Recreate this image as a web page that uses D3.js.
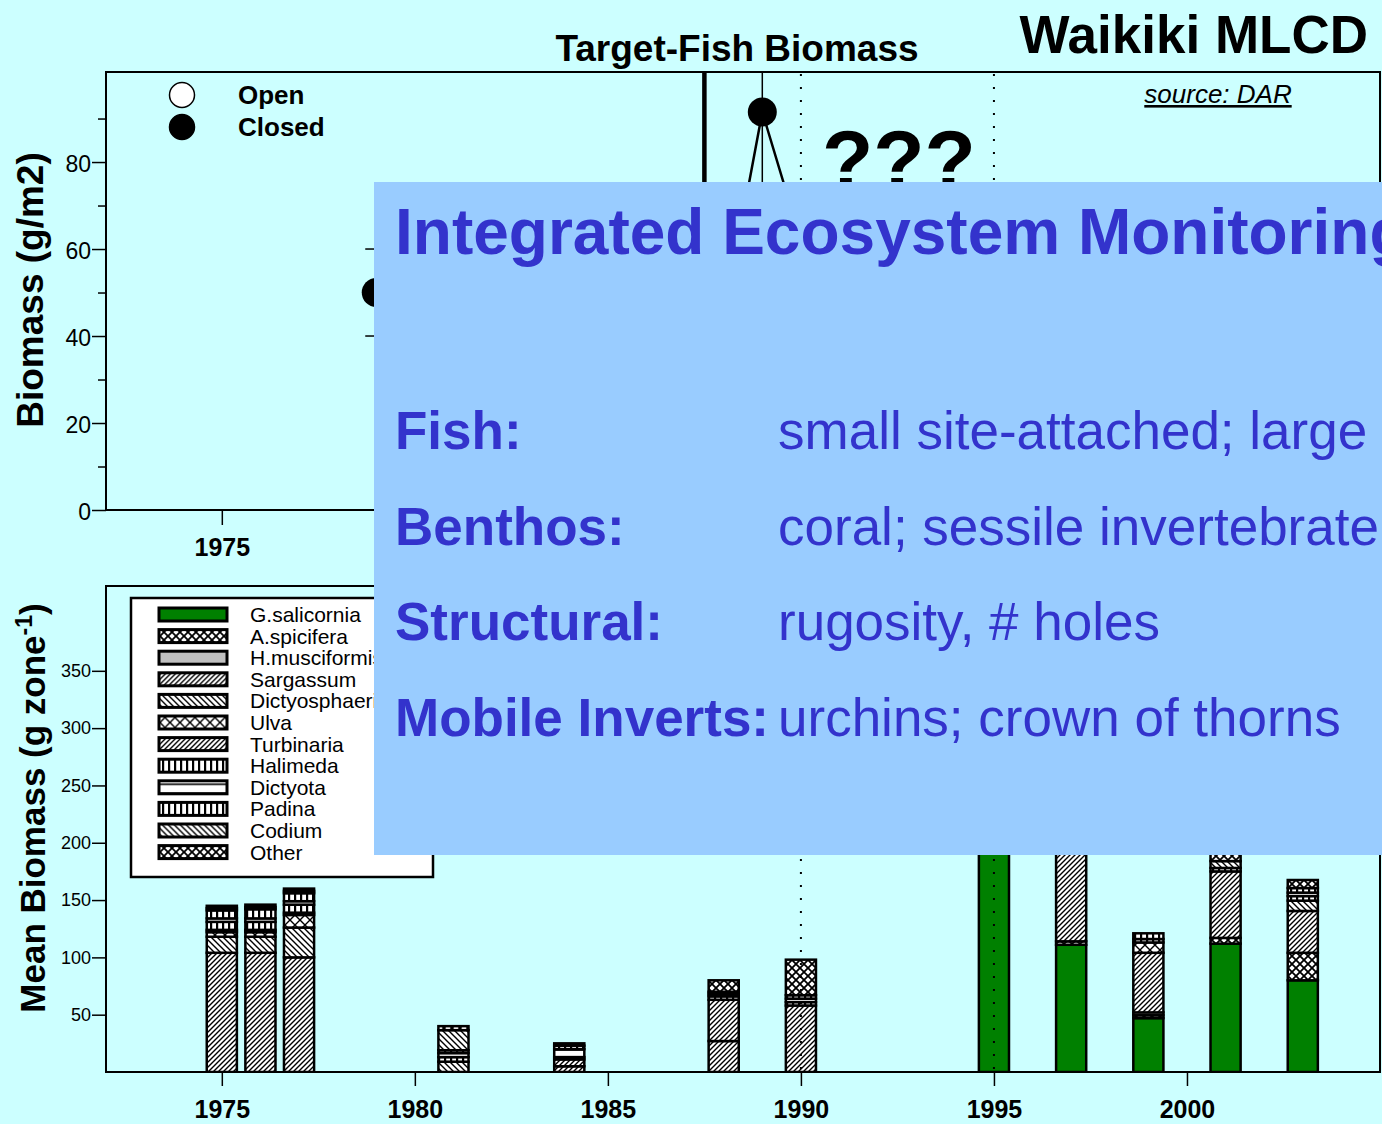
<!DOCTYPE html>
<html lang="en">
  <head>
    <meta charset="utf-8">
    <title>Waikiki MLCD - Target-Fish Biomass</title>
    <style>
      body { margin: 0; background: #ccffff; }
      svg { display: block; }
      text { font-family: "Liberation Sans", Arial, Helvetica, sans-serif; }
    </style>
  </head>
  <body>
    <div id="container"></div>
    <script src="https://cdnjs.cloudflare.com/ajax/libs/d3/7.8.5/d3.min.js"></script>
    <script>
      // ---- top panel: target-fish biomass (closed), mostly under the box
      var fishYears  = [1979, 1988, 1989, 1990];
      var fishClosed = [50, 44, 91.5, 62];
      var fishSE     = [10, 12, 30, 10];
      var markYears  = [1990, 1995];
      var closureYear = 1987.5;
      var fishTicks  = [0, 20, 40, 60, 80];
      var fishMinor  = [10, 30, 50, 70, 90];

      // ---- bottom panel: mean algal biomass by species
      var algaeYears = [1975, 1976, 1977, 1981, 1984, 1988, 1990, 1995, 1997, 1999, 2001, 2003];
      var species = ["G.salicornia", "A.spicifera", "H.musciformis", "Sargassum", "Dictyosphaeria", "Ulva",
                     "Turbinaria", "Halimeda", "Dictyota", "Padina", "Codium", "Other"];
      var gSalicornia    = [0, 0, 0, 0, 0, 0, 0, 330, 111, 47, 112, 80];
      var aSpicifera     = [0, 0, 0, 0, 0, 0, 0, 0, 3, 2.5, 5, 24];
      var hMusciformis   = [0, 0, 0, 0, 0, 0, 0, 0, 0, 2.5, 0, 0];
      var sargassum      = [104, 104, 100, 0, 5, 27, 58, 0, 120, 52, 58, 36.5];
      var dictyosphaeria = [14, 14, 26, 9, 0, 0, 0, 0, 0, 0, 0, 9];
      var ulva           = [4, 4, 11, 0, 0, 0, 0, 0, 0, 9, 0, 0];
      var turbinaria     = [2, 2, 2, 0, 6, 36, 0, 0, 0, 0, 0, 0];
      var halimeda       = [7, 7, 7, 4, 2, 3, 3, 0, 0, 3, 3, 4];
      var dictyota       = [3, 3, 3, 3.5, 7, 2, 3, 0, 0, 0, 0, 3];
      var padina         = [7, 8, 7, 2.5, 3, 2, 3, 0, 0, 5, 0, 4];
      var codium         = [2, 2, 2, 17.5, 0, 0, 0, 0, 0, 0, 6, 0];
      var other          = [2, 2, 2, 3.5, 2, 10, 31, 0, 0, 0, 10, 7];
      var xTicks     = [1975, 1980, 1985, 1990, 1995, 2000];
      var algaeTicks = [50, 100, 150, 200, 250, 300, 350];

      var boxRows = [
        ["Fish:", "small site-attached; large"],
        ["Benthos:", "coral; sessile invertebrate"],
        ["Structural:", "rugosity, # holes"],
        ["Mobile Inverts:", "urchins; crown of thorns"]
      ];

      var speciesValues = [gSalicornia, aSpicifera, hMusciformis, sargassum, dictyosphaeria, ulva,
                           turbinaria, halimeda, dictyota, padina, codium, other];
      var speciesFill = ["#008000", "url(#xdense)", "#c0c0c0", "url(#fwd)", "url(#back)", "url(#cross)",
                         "url(#fwd)", "url(#vert)", "url(#horiz)", "url(#vert)", "url(#back)", "url(#xdense)"];

      var width = 1382, height = 1124;
      var left = 106, right = 1380;
      var boxX = 374, boxTop = 182, boxBottom = 855;

      var svg = d3.select("#container").append("svg")
          .attr("width", width)
          .attr("height", height);

      svg.append("rect").attr("width", width).attr("height", height).attr("fill", "#ccffff");

      var defs = svg.append("defs");
      function hatch(id, size, d, sw) {
        var p = defs.append("pattern").attr("id", id)
            .attr("patternUnits", "userSpaceOnUse")
            .attr("width", size).attr("height", size);
        p.append("rect").attr("width", size).attr("height", size).attr("fill", "#fff");
        p.append("path").attr("d", d).attr("stroke", "#000").attr("stroke-width", sw).attr("fill", "none");
      }
      hatch("fwd", 5, "M-1,1L1,-1M0,5L5,0M4,6L6,4", 1.4);
      hatch("back", 6, "M-1,5L1,7M0,0L6,6M5,-1L7,1", 1.4);
      hatch("cross", 10, "M0,0L10,10M10,0L0,10", 1.4);
      hatch("xdense", 8, "M0,0L8,8M8,0L0,8", 1.8);
      hatch("vert", 6, "M1,0V6", 2.4);
      hatch("horiz", 9, "M0,6H9", 1.6);

      defs.append("clipPath").attr("id", "clipTop").append("rect")
          .attr("x", left).attr("y", 72).attr("width", right - left).attr("height", 510 - 72);
      defs.append("clipPath").attr("id", "clipBot").append("rect")
          .attr("x", left).attr("y", 586).attr("width", right - left).attr("height", 1072 - 586);

      var x = d3.scaleLinear().domain([1972, 2005]).range([left, right]);
      var yTop = d3.scaleLinear().domain([0, 100.7]).range([510, 72]);
      var yBot = d3.scaleLinear().domain([0, 424]).range([1072, 586]);

      // ================= bottom panel =================
      var rows = algaeYears.map(function(yr, i) {
        var r = {year: yr};
        species.forEach(function(s, j) { r[s] = speciesValues[j][i]; });
        return r;
      });
      var stack = d3.stack().keys(species)(rows);
      var barW = x(1975.78) - x(1975);

      var gBars = svg.append("g").attr("clip-path", "url(#clipBot)");
      stack.forEach(function(layer, j) {
        gBars.selectAll(null)
          .data(layer.filter(function(d) { return d[1] - d[0] > 0; }))
          .enter().append("rect")
            .attr("x", function(d) { return x(d.data.year) - barW / 2; })
            .attr("y", function(d) { return yBot(d[1]); })
            .attr("width", barW)
            .attr("height", function(d) { return yBot(d[0]) - yBot(d[1]); })
            .attr("fill", speciesFill[j])
            .attr("stroke", "#000")
            .attr("stroke-width", 2.5);
      });

      gBars.selectAll(".mark")
        .data(markYears)
        .enter().append("line")
          .attr("x1", function(d) { return x(d); })
          .attr("x2", function(d) { return x(d); })
          .attr("y1", 586).attr("y2", 1072)
          .attr("stroke", "#000").attr("stroke-width", 2)
          .attr("stroke-dasharray", "2,11");

      svg.append("rect")
          .attr("x", left).attr("y", 586).attr("width", right - left).attr("height", 1072 - 586)
          .attr("fill", "none").attr("stroke", "#000").attr("stroke-width", 2);

      var axBotY = svg.append("g")
          .attr("transform", "translate(" + left + ",0)")
          .call(d3.axisLeft(yBot).tickValues(algaeTicks).tickSize(14).tickPadding(1));
      axBotY.select(".domain").remove();
      axBotY.selectAll("line").attr("stroke-width", 1.5);
      axBotY.selectAll("text").attr("font-size", 18).attr("fill", "#000")
          .style("font-family", "'Liberation Sans', Arial, sans-serif");

      var axBotX = svg.append("g")
          .attr("transform", "translate(0,1072)")
          .call(d3.axisBottom(x).tickValues(xTicks).tickSize(14).tickPadding(14).tickFormat(d3.format("d")));
      axBotX.select(".domain").remove();
      axBotX.selectAll("line").attr("stroke-width", 1.5);
      axBotX.selectAll("text").attr("font-size", 25).attr("font-weight", "bold").attr("fill", "#000")
          .style("font-family", "'Liberation Sans', Arial, sans-serif");

      svg.append("text")
          .attr("transform", "translate(45,808) rotate(-90)")
          .attr("text-anchor", "middle")
          .attr("font-size", 35).attr("font-weight", "bold")
          .text("Mean Biomass (g zone")
        .append("tspan").attr("baseline-shift", "super").attr("font-size", 23).text("-1")
        .select(function() { return this.parentNode; })
        .append("tspan").text(")");

      // legend box
      var lg = svg.append("g");
      lg.append("rect").attr("x", 131).attr("y", 598).attr("width", 302).attr("height", 279)
          .attr("fill", "#fff").attr("stroke", "#000").attr("stroke-width", 2.5);
      var lgRow = lg.selectAll(".lg").data(species).enter().append("g")
          .attr("transform", function(d, i) { return "translate(0," + (614.5 + i * 21.6) + ")"; });
      lgRow.append("rect").attr("x", 159).attr("y", -6.5).attr("width", 68).attr("height", 13)
          .attr("fill", function(d, i) { return speciesFill[i]; })
          .attr("stroke", "#000").attr("stroke-width", 3);
      lgRow.append("text").attr("x", 250).attr("dy", "0.36em").attr("font-size", 21)
          .text(function(d) { return d; });

      // ================= top panel =================
      var gTop = svg.append("g").attr("clip-path", "url(#clipTop)");

      gTop.append("line")
          .attr("x1", x(closureYear)).attr("x2", x(closureYear))
          .attr("y1", 72).attr("y2", 510)
          .attr("stroke", "#000").attr("stroke-width", 4.5);

      gTop.selectAll(".mark")
        .data(markYears)
        .enter().append("line")
          .attr("x1", function(d) { return x(d); })
          .attr("x2", function(d) { return x(d); })
          .attr("y1", 74).attr("y2", 510)
          .attr("stroke", "#000").attr("stroke-width", 2)
          .attr("stroke-dasharray", "2,11");

      var fish = fishYears.map(function(yr, i) { return {year: yr, v: fishClosed[i], se: fishSE[i]}; });

      gTop.append("path")
          .datum(fish)
          .attr("fill", "none").attr("stroke", "#000").attr("stroke-width", 2.5)
          .attr("d", d3.line().x(function(d) { return x(d.year); }).y(function(d) { return yTop(d.v); }));

      var err = gTop.selectAll(".err").data(fish).enter().append("g");
      err.append("line")
          .attr("x1", function(d) { return x(d.year); }).attr("x2", function(d) { return x(d.year); })
          .attr("y1", function(d) { return yTop(d.v + d.se); }).attr("y2", function(d) { return yTop(d.v - d.se); })
          .attr("stroke", "#000").attr("stroke-width", 1.5);
      err.selectAll("line.cap")
          .data(function(d) { return [[d.year, d.v + d.se], [d.year, d.v - d.se]]; })
          .enter().append("line").attr("class", "cap")
            .attr("x1", function(c) { return x(c[0]) - 11; }).attr("x2", function(c) { return x(c[0]) + 11; })
            .attr("y1", function(c) { return yTop(c[1]); }).attr("y2", function(c) { return yTop(c[1]); })
            .attr("stroke", "#000").attr("stroke-width", 1.5);

      gTop.selectAll("circle")
        .data(fish)
        .enter().append("circle")
          .attr("cx", function(d) { return x(d.year); })
          .attr("cy", function(d) { return yTop(d.v); })
          .attr("r", 14.5)
          .attr("fill", "#000");

      svg.append("text").attr("x", 822).attr("y", 189)
          .attr("font-size", 84).attr("font-weight", "bold").text("???");

      svg.append("rect")
          .attr("x", left).attr("y", 72).attr("width", right - left).attr("height", 510 - 72)
          .attr("fill", "none").attr("stroke", "#000").attr("stroke-width", 2);

      var axTopY = svg.append("g")
          .attr("transform", "translate(" + left + ",0)")
          .call(d3.axisLeft(yTop).tickValues(fishTicks).tickSize(14).tickPadding(1));
      axTopY.select(".domain").remove();
      axTopY.selectAll("line").attr("stroke-width", 1.5);
      axTopY.selectAll("text").attr("font-size", 23).attr("fill", "#000").attr("dy", "0.42em")
          .style("font-family", "'Liberation Sans', Arial, sans-serif");

      var axTopMinor = svg.append("g")
          .attr("transform", "translate(" + left + ",0)")
          .call(d3.axisLeft(yTop).tickValues(fishMinor).tickSize(8).tickFormat(""));
      axTopMinor.select(".domain").remove();
      axTopMinor.selectAll("line").attr("stroke-width", 1.5);

      // year labels that would sit under the box are left out
      var axTopX = svg.append("g")
          .attr("transform", "translate(0,510)")
          .call(d3.axisBottom(x).tickValues(xTicks).tickSize(15).tickPadding(13)
            .tickFormat(function(d) { return x(d) + 30 < boxX ? d3.format("d")(d) : ""; }));
      axTopX.select(".domain").remove();
      axTopX.selectAll("line").attr("stroke-width", 1.5);
      axTopX.selectAll("text").attr("font-size", 25).attr("font-weight", "bold").attr("fill", "#000")
          .style("font-family", "'Liberation Sans', Arial, sans-serif");

      svg.append("text")
          .attr("transform", "translate(43,290) rotate(-90)")
          .attr("text-anchor", "middle")
          .attr("font-size", 37).attr("font-weight", "bold")
          .text("Biomass (g/m2)");

      // open / closed key
      var key = [["Open", "#fff"], ["Closed", "#000"]];
      var kg = svg.selectAll(".key").data(key).enter().append("g")
          .attr("transform", function(d, i) { return "translate(0," + (95 + i * 32) + ")"; });
      kg.append("circle").attr("cx", 182).attr("r", 12.5)
          .attr("fill", function(d) { return d[1]; }).attr("stroke", "#000").attr("stroke-width", 1.5);
      kg.append("text").attr("x", 238).attr("dy", "0.36em")
          .attr("font-size", 26).attr("font-weight", "bold").text(function(d) { return d[0]; });

      // titles
      svg.append("text").attr("x", 737).attr("y", 61).attr("text-anchor", "middle")
          .attr("font-size", 37).attr("font-weight", "bold").text("Target-Fish Biomass");
      svg.append("text").attr("x", 1368).attr("y", 53).attr("text-anchor", "end")
          .attr("font-size", 53).attr("font-weight", "bold").text("Waikiki MLCD");
      svg.append("text").attr("x", 1218).attr("y", 103).attr("text-anchor", "middle")
          .attr("font-size", 26).attr("font-style", "italic")
          .attr("text-decoration", "underline").text("source: DAR");

      // ================= overlay box =================
      var box = svg.append("g");
      box.append("rect").attr("x", boxX).attr("y", boxTop).attr("width", width - boxX).attr("height", boxBottom - boxTop)
          .attr("fill", "#99ccff");
      box.append("text").attr("x", 395).attr("y", 254)
          .attr("font-size", 64).attr("font-weight", "bold").attr("fill", "#3333cc")
          .text("Integrated Ecosystem Monitoring");
      var br = box.selectAll(".row").data(boxRows).enter().append("g")
          .attr("transform", function(d, i) { return "translate(0," + (449 + i * 95.7) + ")"; });
      br.append("text").attr("x", 395).attr("font-size", 53).attr("font-weight", "bold").attr("fill", "#3333cc")
          .text(function(d) { return d[0]; });
      br.append("text").attr("x", 778).attr("font-size", 53).attr("fill", "#3333cc")
          .text(function(d) { return d[1]; });
    </script>
  </body>
</html>
